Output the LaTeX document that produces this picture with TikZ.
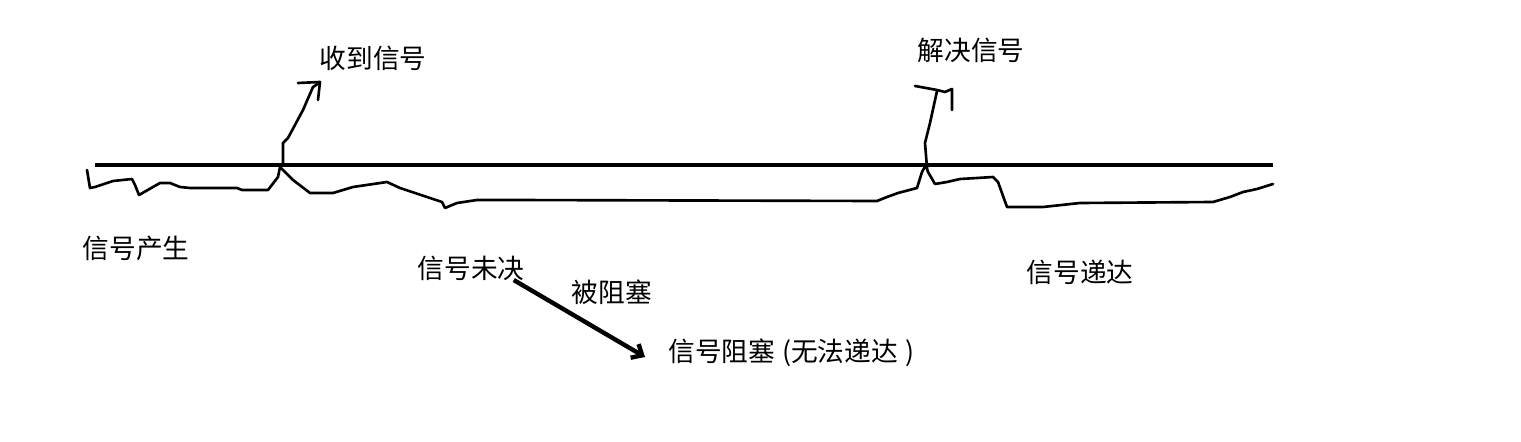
\documentclass[tikz,border=0pt]{standalone}
\usepackage{fontspec}
\setmainfont{Noto Sans CJK SC}
\usetikzlibrary{arrows.meta,calc}

\tikzset{
  lbl/.style={inner sep=0pt,text height=.76em,text depth=0pt,font=\fontsize{15.2}{18}\selectfont},
  timeline/.style={line width=2.3pt},
  sketch/.style={line width=1.5pt,line join=round,line cap=round},
  blockarrow/.style={line width=2.5pt,-{Straight Barb[length=5pt,width=9pt]}}
}

\begin{document}
\begin{tikzpicture}[x=0.02cm,y=-0.02cm]
\useasboundingbox (0,0) rectangle (1521,442);

% time line
\draw[timeline] (95,165) -- (1273,165);

% hand drawn state curve
\draw[sketch] (87,170) -- (90,188) -- (95,187) -- (113,181) -- (132,179) -- (135,185)
  -- (139,195) -- (160,183) -- (170,183) -- (180,187) -- (190,188) -- (237,188)
  -- (242,190) -- (268,190) -- (278,177) -- (280,167) -- (293,180) -- (310,193)
  -- (333,193) -- (353,187) -- (387,182) -- (400,188) -- (442,202) -- (445,208)
  -- (457,203) -- (477,200) -- (510,200) -- (877,201) -- (887,197) -- (898,193)
  -- (917,188) -- (922,172) -- (926,165) -- (928,172) -- (935,184) -- (947,182)
  -- (960,179) -- (977,178) -- (993,177) -- (998,182) -- (1007,207) -- (1043,207)
  -- (1080,203) -- (1213,202) -- (1230,197) -- (1243,192) -- (1257,189) -- (1273,184);

% marks
\coordinate (recvpt) at (283,165);
\coordinate (respt) at (927,168);
\draw[sketch] (recvpt) -- (283,143) -- (288,138) -- (303,110) -- (313,87) -- (319,83);
\draw[sketch] (298,83) -- (320,82) -- (318,100);
\draw[sketch] (respt) -- (925,143) -- (930,123) -- (937,91);
\draw[sketch] (915,86) -- (937,90) -- (945,92) -- (952,89) -- (952,110);

% labels
\node[lbl] (recv) at (373,62) {收到信号};
\node[lbl] (resolve) at (971,54) {解决信号};
\node[lbl] (gen) at (136,252) {信号产生};
\node[lbl] (pending) at (471,272) {信号未决};
\node[lbl] (blockedlbl) at (612,296) {被阻塞};
\node[lbl,anchor=west] (blocked) at (668,355) {信号阻塞\hspace{4pt}(无法递达\hspace{4pt})};
\node[lbl] (deliver) at (1080,276) {信号递达};

\draw[blockarrow] ($(pending.south east)+(-11,1)$) -- ($(blocked.west)+(-23,2)$);

\end{tikzpicture}
\end{document}
